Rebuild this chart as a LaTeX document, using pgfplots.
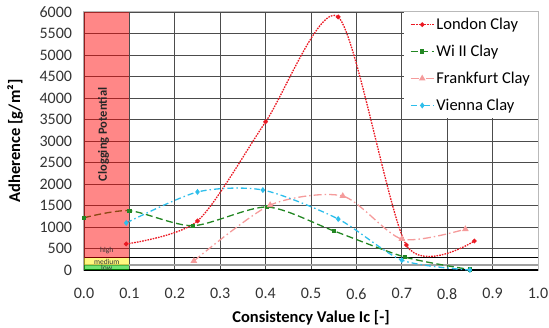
\documentclass[border=0pt]{standalone}
\usepackage{pgfplots}
\pgfplotsset{compat=1.18}
\usepackage{fontspec}
\setmainfont{Carlito}
\definecolor{lon}{RGB}{235,25,35}
\definecolor{wii}{RGB}{35,135,35}
\definecolor{fra}{RGB}{245,155,155}
\definecolor{vie}{RGB}{45,190,235}
\begin{document}
\begin{tikzpicture}
\begin{axis}[
  scale only axis, width=454bp, height=258bp,
  xmin=0, xmax=1, ymin=0, ymax=6000,
  xtick={0,0.1,0.2,0.3,0.4,0.5,0.6,0.7,0.8,0.9,1},
  ytick={0,500,1000,1500,2000,2500,3000,3500,4000,4500,5000,5500,6000},
  scaled y ticks=false,
  /pgf/number format/assume math mode=true,
  x tick label style={/pgf/number format/.cd, fixed, fixed zerofill, precision=1, /tikz/.cd, yshift=-15bp},
  y tick label style={/pgf/number format/.cd, fixed, 1000 sep={}, /tikz/.cd, xshift=-8.5bp},
  tick label style={font=\fontsize{16bp}{19bp}\selectfont, text=black!80},
  tick style={draw=none},
  grid=major, major grid style={black!70, line width=0.8bp},
  axis line style={gray!55, line width=1bp},
  xlabel={Consistency Value Ic [-]},
  ylabel={Adherence [g/m²]},
  label style={font=\bfseries\fontsize{16.5bp}{19bp}\selectfont},
  xlabel style={at={(axis description cs:0.5,0)}, anchor=north, yshift=-37bp},
  ylabel style={at={(axis description cs:0,0.5)}, anchor=center, rotate=0, yshift=69bp},
  legend cell align=left,
  legend image code/.code={\draw[mark repeat=2, mark phase=2] plot coordinates {(0bp,0bp)(11.5bp,0bp)(23bp,0bp)};},
  legend style={at={(axis description cs:1,1)}, anchor=north east, draw=none, fill=white,
    font=\fontsize{16.5bp}{19bp}\selectfont, row sep=10bp, inner xsep=6bp, inner ysep=4bp,
    /tikz/every even column/.append style={column sep=0bp}},
]
% threshold lines
\addplot[forget plot, black, line width=1bp] coordinates {(0,280)(1,280)};
\addplot[forget plot, gray!75, line width=1.6bp] coordinates {(0,120)(1,120)};
\addplot[forget plot, black, line width=1.6bp] coordinates {(0,0)(1,0)};
\addplot[forget plot, black!80, line width=2bp] coordinates {(0,0)(0,6000)};

\addplot[lon, line width=1.3bp, dash pattern=on 1.6bp off 1.1bp, smooth, tension=0.45,
  mark=*, mark size=1.6bp, mark options={solid}] coordinates {
  (0.093,605) (0.25,1140) (0.40,3445) (0.56,5884) (0.71,580) (0.86,674)};
\addlegendentry{London Clay}
\addplot[wii, line width=1.3bp, dash pattern=on 7bp off 3.5bp, smooth, tension=0.45,
  mark=square*, mark size=1.5bp, mark options={solid}] coordinates {
  (0.0,1215) (0.10,1380) (0.24,1030) (0.403,1465) (0.55,910) (0.707,300) (0.85,10)};
\addlegendentry{Wi II Clay}
\addplot[fra, line width=1.3bp, dash pattern=on 8bp off 3bp on 1.5bp off 3bp, smooth, tension=0.45,
  mark=triangle*, mark size=2.6bp, mark options={solid}] coordinates {
  (0.242,210) (0.41,1510) (0.57,1720) (0.70,720) (0.84,950)};
\addlegendentry{Frankfurt Clay}
\addplot[vie, line width=1.3bp, dash pattern=on 6bp off 3bp on 1.5bp off 3bp, smooth, tension=0.45,
  mark=diamond*, mark size=2bp, mark options={solid}] coordinates {
  (0.093,1095) (0.25,1815) (0.394,1860) (0.56,1186) (0.70,230) (0.85,0)};
\addlegendentry{Vienna Clay}

% translucent bands
\addplot[forget plot, draw=none, fill=red, fill opacity=0.47] coordinates {(0,280)(0.1,280)(0.1,6000)(0,6000)} -- cycle;
\addplot[forget plot, draw=none, fill=yellow, fill opacity=0.5] coordinates {(0,120)(0.1,120)(0.1,280)(0,280)} -- cycle;
\addplot[forget plot, draw=none, fill=green!80!black, fill opacity=0.55] coordinates {(0,0)(0.1,0)(0.1,120)(0,120)} -- cycle;

\node[rotate=90, font=\bfseries\fontsize{12.5bp}{14bp}\selectfont, text=black!85] at (axis cs:0.043,3150) {Clogging Potential};
\node[font=\fontsize{7.5bp}{8bp}\selectfont, text=black!80, inner sep=0pt] at (axis cs:0.05,450) {high};
\node[font=\fontsize{7.5bp}{8bp}\selectfont, text=black!80, inner sep=0pt] at (axis cs:0.05,195) {medium};
\node[font=\fontsize{7.5bp}{8bp}\selectfont, text=black!80, inner sep=0pt] at (axis cs:0.05,50) {low};
\end{axis}
\pgfresetboundingbox
\path[use as bounding box] (-84bp,-58bp) rectangle (465bp,270bp);
\end{tikzpicture}
\end{document}
